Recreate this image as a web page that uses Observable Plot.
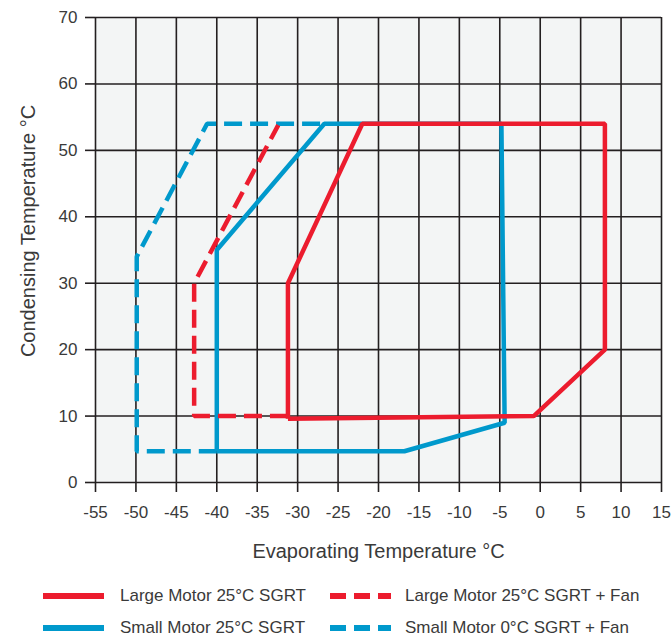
<!DOCTYPE html>
<html>
<head>
<meta charset="utf-8">
<script src="https://cdn.jsdelivr.net/npm/d3@7"></script>
<script src="https://cdn.jsdelivr.net/npm/@observablehq/plot@0.6"></script>
<style>
  body { margin: 0; background: #fff; }
  #chart svg { display: block; }
  .legend { position: relative; width: 672px; height: 65px; font-family: "Liberation Sans", Arial, sans-serif; font-size: 17px; color: #3a3a3a; }
  .item { position: absolute; height: 24px; display: flex; align-items: center; }
  .item svg { display: block; }
  .item span { white-space: nowrap; }
</style>
</head>
<body>
<div id="chart"></div>
<div class="legend" id="legend"></div>
<script>
// ---- data ----
const xTicks = [-55, -50, -45, -40, -35, -30, -25, -20, -15, -10, -5, 0, 5, 10, 15];
const yTicks = [0, 10, 20, 30, 40, 50, 60, 70];

const largeMotorX = [-31.2, -0.8, 8, 8, -22, -31.2, -31.2];
const largeMotorY = [9.6, 10, 20, 54, 54, 30, 9.6];

const largeFanX = [-31.2, -42.8, -42.8, -32.4];
const largeFanY = [10, 10, 30, 53.8];

const smallMotorX = [-40, -16.8, -4.4, -4.8, -26.7, -40, -40];
const smallMotorY = [4.7, 4.7, 9, 54, 54, 35, 4.7];

const smallFanX = [-40, -49.9, -49.9, -41.2, -26.7];
const smallFanY = [4.7, 4.7, 34, 54, 54];

const seriesNames = ["Large Motor 25°C SGRT", "Large Motor 25°C SGRT + Fan", "Small Motor 25°C SGRT", "Small Motor 0°C SGRT + Fan"];
const xTitle = "Evaporating Temperature °C";
const yTitle = "Condensing Temperature °C";

const RED = "#ec1c2e";
const BLUE = "#0099cc";
const GRID = "#231f20";
const TEXT = "#3a3a3a";
const FONT = "'Liberation Sans', Arial, sans-serif";

const pts = (xs, ys) => xs.map((x, i) => ({x, y: ys[i]}));

const lineOpts = (color, dashed) => ({
  x: "x", y: "y", stroke: color, strokeWidth: 4.5,
  strokeLinejoin: "miter", strokeLinecap: "butt",
  strokeDasharray: dashed ? "18,8" : null
});

const chart = Plot.plot({
  width: 672,
  height: 575,
  marginLeft: 95,
  marginRight: 11,
  marginTop: 17,
  marginBottom: 93,
  style: {fontFamily: FONT, fontSize: "17px", color: GRID, background: "#fff"},
  x: {domain: [-55, 15], label: null},
  y: {domain: [0, 70], label: null},
  marks: [
    Plot.frame({fill: "#f3f5f5", stroke: "none"}),
    Plot.gridX(xTicks, {stroke: GRID, strokeOpacity: 1, strokeWidth: 1.6}),
    Plot.gridY(yTicks, {stroke: GRID, strokeOpacity: 1, strokeWidth: 1.6}),
    Plot.axisX(xTicks, {tickSize: 10, tickPadding: 13, stroke: GRID, strokeWidth: 1.6, fill: TEXT, fontSize: 17, label: null, tickFormat: d => String(d)}),
    Plot.axisY(yTicks, {tickSize: 10, tickPadding: 8, stroke: GRID, strokeWidth: 1.6, fill: TEXT, fontSize: 17, label: null, tickFormat: d => String(d)}),
    Plot.line(pts(smallFanX, smallFanY), lineOpts(BLUE, true)),
    Plot.line(pts(smallMotorX, smallMotorY), lineOpts(BLUE, false)),
    Plot.line(pts(largeFanX, largeFanY), lineOpts(RED, true)),
    Plot.line(pts(largeMotorX, largeMotorY), lineOpts(RED, false)),
    Plot.text([xTitle], {frameAnchor: "bottom", dy: 69, fontSize: 20, fill: TEXT, textAnchor: "middle", lineAnchor: "middle"}),
    Plot.text([yTitle], {frameAnchor: "left", dx: -67, dy: -19, rotate: -90, fontSize: 20, fill: TEXT, textAnchor: "middle", lineAnchor: "middle"})
  ]
});
document.getElementById("chart").appendChild(chart);

// ---- legend ----
const legendItems = [
  {name: seriesNames[0], color: RED, dashed: false, left: 43, top: 9},
  {name: seriesNames[1], color: RED, dashed: true, left: 330, top: 9},
  {name: seriesNames[2], color: BLUE, dashed: false, left: 43, top: 41},
  {name: seriesNames[3], color: BLUE, dashed: true, left: 330, top: 41}
];
const legend = document.getElementById("legend");
for (const it of legendItems) {
  const div = document.createElement("div");
  div.className = "item";
  div.style.left = it.left + "px";
  div.style.top = it.top + "px";
  const w = 61;
  const gap = it.dashed ? 14 : 16;
  div.innerHTML =
    `<svg width="${w}" height="8"><line x1="0" x2="${w}" y1="4" y2="4" stroke="${it.color}" stroke-width="6" ${it.dashed ? 'stroke-dasharray="16,8"' : ''}/></svg>` +
    `<span style="margin-left:${gap}px">${it.name}</span>`;
  legend.appendChild(div);
}
</script>
</body>
</html>
